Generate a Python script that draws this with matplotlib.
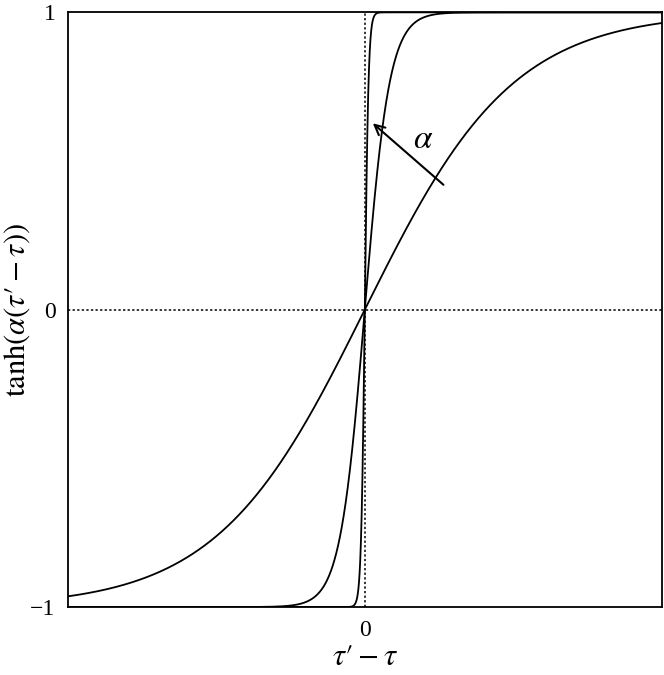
import numpy as np
import matplotlib
matplotlib.use('Agg')
from matplotlib import pyplot as plt

plt.rcParams['font.family'] = ['Liberation Serif', 'DejaVu Serif']
plt.rcParams['mathtext.fontset'] = 'stix'

# steepness parameters of the three curves
alphas = [2, 12, 80]
x_ticks = [0]
x_ticklabels = ['0']
y_ticks = [-1, 0, 1]
y_ticklabels = ['\u22121', '0', '1']

fig = plt.figure(figsize=(6.64, 6.75), dpi=100)
ax = fig.add_axes([0.1024, 0.1007, 0.894, 0.881])

x = np.linspace(-1, 1, 4001)
for a in alphas:
    ax.plot(x, np.tanh(a * x), color='black', lw=1.3)

ax.axhline(0, color='black', lw=1.1, ls=(0, (1.5, 1.5)))
ax.axvline(0, color='black', lw=1.1, ls=(0, (1.5, 1.5)))

ax.annotate('', xy=(0.02, 0.633), xytext=(0.272, 0.414),
            arrowprops=dict(arrowstyle='->', color='black', lw=1.5,
                            mutation_scale=18))
ax.text(0.195, 0.572, r'$\alpha$', fontsize=24, ha='center', va='center')

ax.set_xlim(-1, 1)
ax.set_ylim(-1, 1)
ax.set_xticks(x_ticks)
ax.set_xticklabels(x_ticklabels, fontsize=17)
ax.set_yticks(y_ticks)
ax.set_yticklabels(y_ticklabels, fontsize=17)
ax.tick_params(axis='y', length=0, pad=9)
ax.tick_params(axis='x', length=0, pad=9)
for s in ax.spines.values():
    s.set_linewidth(1.3)

ax.set_xlabel('$\\tau\u2032 - \\tau$', fontsize=22, labelpad=2)
ax.set_ylabel('$\\mathrm{tanh}(\\alpha(\\tau\u2032 - \\tau))$', fontsize=22)
ax.yaxis.set_label_coords(-0.06, 0.5)

plt.savefig('out.png', dpi=100)
